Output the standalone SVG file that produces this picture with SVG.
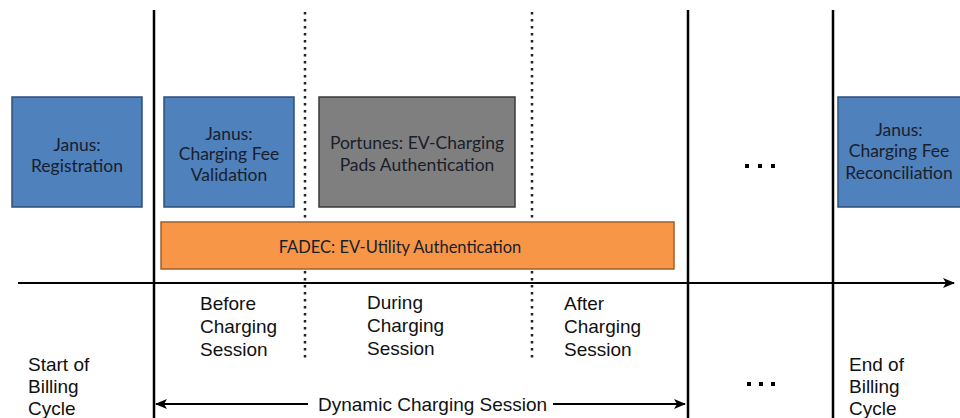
<svg xmlns="http://www.w3.org/2000/svg" width="960" height="418" viewBox="0 0 960 418">
<defs>
<style>
.box{font-family:Lato,"Open Sans","Liberation Sans",sans-serif;font-size:17.5px;fill:#1a202b;text-anchor:middle}
.lbl{font-family:"Liberation Sans",Arial,sans-serif;font-size:19px;fill:#111}
.blue{fill:#4f81bd;stroke:#2f4f78;stroke-width:1.5}
.gray{fill:#7f7f7f;stroke:#3a3a3a;stroke-width:1.5}
.orange{fill:#f79646;stroke:#a0602a;stroke-width:1.5}
.solid{stroke:#000;stroke-width:2.5}
.dot{stroke:#222;stroke-width:2.5;stroke-dasharray:2.5 4.5}
.ax{stroke:#000;stroke-width:2;fill:none}
</style>
<marker id="ah" viewBox="0 0 12 10" refX="11" refY="5" markerWidth="12" markerHeight="10" markerUnits="userSpaceOnUse" orient="auto-start-reverse">
<path d="M0,0 L12,5 L0,10 L3,5 Z" fill="#000"/>
</marker>
</defs>
<rect width="960" height="418" fill="#fff"/>
<g id="connectors">
<line class="solid" x1="154" y1="10" x2="154" y2="418"/>
<line class="solid" x1="688" y1="10" x2="688" y2="418"/>
<line class="solid" x1="833" y1="10" x2="833" y2="418"/>
<line class="dot" x1="305" y1="12" x2="305" y2="362"/>
<line class="dot" x1="532" y1="12" x2="532" y2="362"/>
<line class="ax" x1="18" y1="283" x2="954" y2="283" marker-end="url(#ah)"/>
<line class="ax" x1="156" y1="404" x2="308" y2="404" marker-start="url(#ah)" stroke-width="1.8"/>
<line class="ax" x1="553" y1="404" x2="685" y2="404" marker-end="url(#ah)" stroke-width="1.8"/>
</g>
<g id="janus-registration">
<rect class="blue" x="12" y="97" width="130" height="110"/>
<text class="box" x="77" y="151">Janus:</text>
<text class="box" x="77" y="172">Registration</text>
</g>
<g id="janus-validation">
<rect class="blue" x="164" y="97" width="130" height="110"/>
<text class="box" x="229" y="140">Janus:</text>
<text class="box" x="229" y="160">Charging Fee</text>
<text class="box" x="229" y="181">Validation</text>
</g>
<g id="portunes">
<rect class="gray" x="319" y="97" width="196" height="110"/>
<text class="box" x="417" y="149">Portunes: EV-Charging</text>
<text class="box" x="417" y="171">Pads Authentication</text>
</g>
<g id="janus-reconciliation">
<rect class="blue" x="838" y="97" width="130" height="110"/>
<text class="box" x="899" y="136">Janus:</text>
<text class="box" x="899" y="157">Charging Fee</text>
<text class="box" x="899" y="179">Reconciliation</text>
</g>
<g id="fadec">
<rect class="orange" x="161" y="222" width="513" height="47"/>
<text class="box" x="400" y="253" style="font-size:16.5px">FADEC: EV-Utility Authentication</text>
</g>
<g id="ellipsis-top">
<rect x="745" y="164" width="4" height="4" fill="#000"/>
<rect x="758" y="164" width="4" height="4" fill="#000"/>
<rect x="771" y="164" width="4" height="4" fill="#000"/>
</g>
<g id="ellipsis-bottom">
<rect x="747" y="382" width="4" height="4" fill="#000"/>
<rect x="759" y="382" width="4" height="4" fill="#000"/>
<rect x="771" y="382" width="4" height="4" fill="#000"/>
</g>
<g id="labels">
<text class="lbl" x="200" y="310">Before</text>
<text class="lbl" x="200" y="333">Charging</text>
<text class="lbl" x="200" y="356">Session</text>
<text class="lbl" x="367" y="309">During</text>
<text class="lbl" x="367" y="332">Charging</text>
<text class="lbl" x="367" y="355">Session</text>
<text class="lbl" x="564" y="310">After</text>
<text class="lbl" x="564" y="333">Charging</text>
<text class="lbl" x="564" y="356">Session</text>
<text class="lbl" x="28" y="371">Start of</text>
<text class="lbl" x="28" y="393">Billing</text>
<text class="lbl" x="28" y="415">Cycle</text>
<text class="lbl" x="849" y="371">End of</text>
<text class="lbl" x="849" y="393">Billing</text>
<text class="lbl" x="849" y="415">Cycle</text>
<text class="lbl" x="318" y="411">Dynamic Charging Session</text>
</g>
</svg>
